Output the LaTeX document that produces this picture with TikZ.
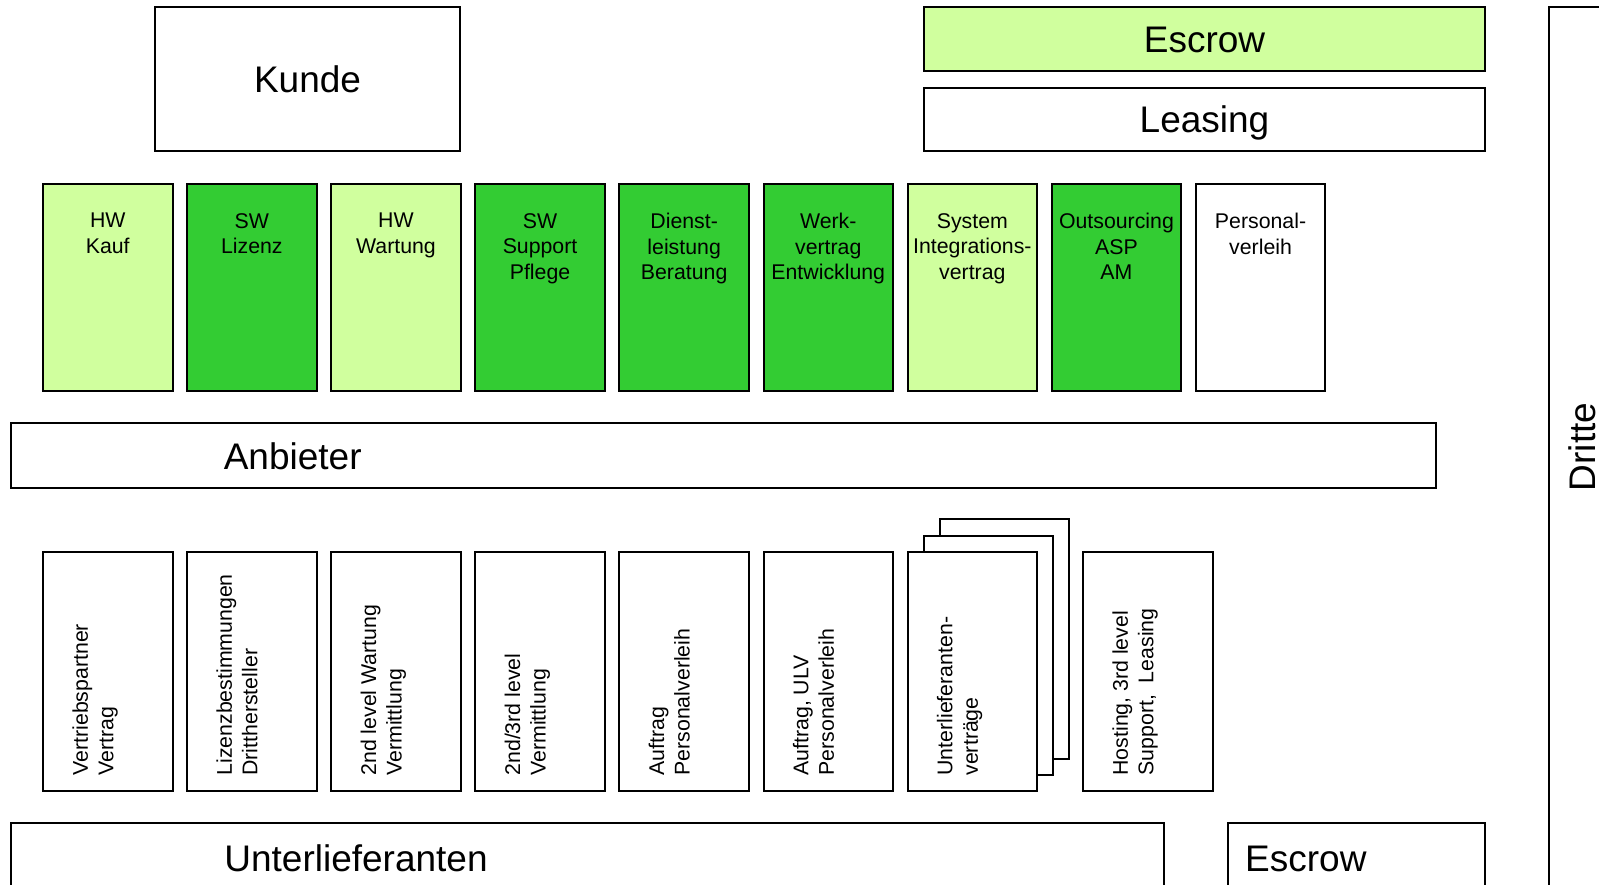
\documentclass[tikz,border=0pt]{standalone}
\usepackage{fontspec}
\setmainfont{Liberation Sans}
\newcommand\myBig{\fontsize{37}{44}\selectfont}
\newcommand\mySmall{\fontsize{21.3}{25.5}\selectfont}
\definecolor{lgreen}{RGB}{208,255,158}
\definecolor{dgreen}{RGB}{51,204,51}
\tikzset{
  box/.style={draw=black, line width=2pt, inner sep=0pt, outer sep=0pt, anchor=north west, fill=white},
  colbox/.style={box, minimum width=129.5pt, minimum height=207pt},
  lowbox/.style={box, minimum width=129.5pt, minimum height=239.7pt},
  toplabel/.style={font=\mySmall, align=center, anchor=north, inner sep=0pt},
  lowlabel/.style={font=\mySmall, align=left, anchor=north west, rotate=90, inner sep=0pt},
  biglabel/.style={font=\myBig, anchor=base, inner sep=0pt}
}
\begin{document}
\begin{tikzpicture}[x=1pt,y=-1pt]
\useasboundingbox (0,0) rectangle (1599,885);
\clip (0,0) rectangle (1599,885);
% top
\node[box, minimum width=305pt, minimum height=144pt] (kunde) at (155,7.1) {};
\node[biglabel] (kundel) at ([yshift=-13.2pt]kunde.center) {Kunde};
\node[box, fill=lgreen, minimum width=561pt, minimum height=64.3pt] (escrowT) at (924,7.1) {};
\node[biglabel] (escrowTl) at ([yshift=-13.2pt]escrowT.center) {Escrow};
\node[box, minimum width=561pt, minimum height=63.3pt] (leasing) at (924,87.7) {};
\node[biglabel] (leasingl) at ([yshift=-13.2pt]leasing.center) {Leasing};
% contract columns
\node[colbox, fill=lgreen] (t1) at (43,184) {};
\node[colbox, fill=dgreen] (t2) at (187.1,184) {};
\node[colbox, fill=lgreen] (t3) at (331.2,184) {};
\node[colbox, fill=dgreen] (t4) at (475.3,184) {};
\node[colbox, fill=dgreen] (t5) at (619.4,184) {};
\node[colbox, fill=dgreen] (t6) at (763.5,184) {};
\node[colbox, fill=lgreen] (t7) at (907.6,184) {};
\node[colbox, fill=dgreen] (t8) at (1051.7,184) {};
\node[colbox] (t9) at (1195.8,184) {};
\node[toplabel] (t1l) at ([yshift=-29pt]t1.north) {HW\\Kauf};
\node[toplabel] (t2l) at ([yshift=-29pt]t2.north) {SW\\Lizenz};
\node[toplabel] (t3l) at ([yshift=-29pt]t3.north) {HW\\Wartung};
\node[toplabel] (t4l) at ([yshift=-29pt]t4.north) {SW\\Support\\Pflege};
\node[toplabel] (t5l) at ([yshift=-29pt]t5.north) {Dienst-\\leistung\\Beratung};
\node[toplabel] (t6l) at ([yshift=-29pt]t6.north) {Werk-\\vertrag\\Entwicklung};
\node[toplabel] (t7l) at ([yshift=-29pt]t7.north) {System\\Integrations-\\vertrag};
\node[toplabel] (t8l) at ([yshift=-29pt]t8.north) {Outsourcing\\ASP\\AM};
\node[toplabel] (t9l) at ([yshift=-29pt]t9.north) {Personal-\\verleih};
% Anbieter
\node[box, minimum width=1424.8pt, minimum height=64.5pt] (anbieter) at (11.2,423) {};
\node[biglabel] (anbieterl) at (292.7,469) {Anbieter};
% lower contracts
\node[lowbox] (b7s2) at (939.6,519.4) {};
\node[lowbox] (b7s1) at (923.6,535.5) {};
\node[lowbox] (b1) at (43,551.7) {};
\node[lowbox] (b2) at (187.1,551.7) {};
\node[lowbox] (b3) at (331.2,551.7) {};
\node[lowbox] (b4) at (475.3,551.7) {};
\node[lowbox] (b5) at (619.4,551.7) {};
\node[lowbox] (b6) at (763.5,551.7) {};
\node[lowbox] (b7) at (907.6,551.7) {};
\node[lowbox] (b8) at (1083,551.7) {};
\node[lowlabel] (b1l) at ([xshift=29.2pt,yshift=15.7pt]b1.south west) {Vertriebspartner\\Vertrag};
\node[lowlabel] (b2l) at ([xshift=29.2pt,yshift=15.7pt]b2.south west) {Lizenzbestimmungen\\Dritthersteller};
\node[lowlabel] (b3l) at ([xshift=29.2pt,yshift=15.7pt]b3.south west) {2nd level Wartung\\Vermittlung};
\node[lowlabel] (b4l) at ([xshift=29.2pt,yshift=15.7pt]b4.south west) {2nd/3rd level\\Vermittlung};
\node[lowlabel] (b5l) at ([xshift=29.2pt,yshift=15.7pt]b5.south west) {Auftrag\\Personalverleih};
\node[lowlabel] (b6l) at ([xshift=29.2pt,yshift=15.7pt]b6.south west) {Auftrag, ULV\\Personalverleih};
\node[lowlabel] (b7l) at ([xshift=29.2pt,yshift=15.7pt]b7.south west) {Unterlieferanten-\\verträge};
\node[lowlabel] (b8l) at ([xshift=29.2pt,yshift=15.7pt]b8.south west) {Hosting, 3rd level\\Support,~ Leasing};
% bottom row
\node[box, minimum width=1152.4pt, minimum height=64.5pt] (unter) at (11.2,823) {};
\node[biglabel] (unterl) at (356,871) {Unterlieferanten};
\node[box, minimum width=257pt, minimum height=64.5pt] (escrowB) at (1228,823) {};
\node[biglabel, anchor=base west] (escrowBl) at (1245,871) {Escrow};
% Dritte
\node[box, minimum width=66pt, minimum height=884pt] (dritte) at (1549,7.1) {};
\node[biglabel, rotate=90] (drittel) at (1595,447) {Dritte};
\end{tikzpicture}
\end{document}
